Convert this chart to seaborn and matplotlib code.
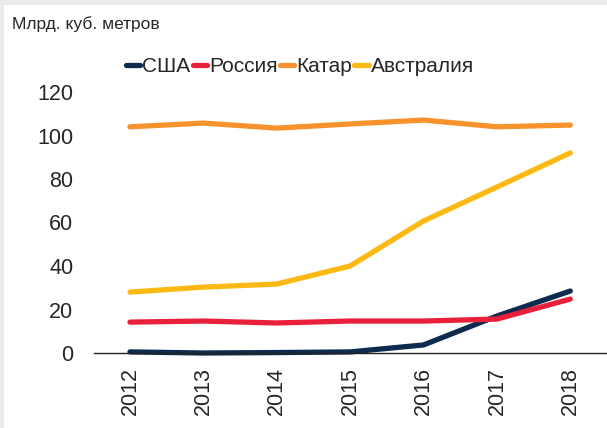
import numpy as np
import pandas as pd
import seaborn as sns
import matplotlib.pyplot as plt
from matplotlib.patches import Rectangle

years = [2012, 2013, 2014, 2015, 2016, 2017, 2018]
usa = [0.5, 0.0, 0.2, 0.5, 3.7, 17.0, 28.5]
russia = [14.2, 14.7, 13.8, 14.7, 14.7, 15.6, 24.8]
qatar = [104.0, 105.7, 103.4, 105.3, 107.1, 104.0, 104.8]
australia = [28.0, 30.3, 31.7, 40.0, 60.7, 76.3, 92.0]

names = ['США', 'Россия', 'Катар', 'Австралия']
colors = ['#0d2b4e', '#e8203a', '#f7922c', '#fdb913']

df = pd.DataFrame({'Год': years * 4,
                   'Страна': np.repeat(names, len(years)),
                   'Объём': usa + russia + qatar + australia})

sns.set_style('white')
plt.rcParams['font.family'] = ['Liberation Sans', 'DejaVu Sans']

fig = plt.figure(figsize=(6.07, 4.28), dpi=100, facecolor='#ebebeb')
# white panel inside the gray frame
fig.patches.append(Rectangle((4 / 607, 0), 1, 1 - 5 / 428, transform=fig.transFigure,
                             facecolor='white', edgecolor='none', zorder=-10))

ax = fig.add_axes([94 / 607, 1 - 353 / 428, 1 - 94 / 607, (353 - 92) / 428])
ax.set_facecolor('none')

sns.lineplot(data=df, x='Год', y='Объём', hue='Страна', hue_order=names,
             palette=colors, linewidth=3.8, ax=ax, legend=False, clip_on=False)
for line in ax.lines:
    line.set_solid_capstyle('round')

ax.set_xlim(2011.51, 2018.5)
ax.set_ylim(0, 120)
ax.set_yticks(range(0, 121, 20))
ax.set_xticks(years)
ax.set_xticklabels([str(y) for y in years], rotation=90, fontsize=15.5)
ax.tick_params(axis='y', labelsize=15.5, length=0, pad=15)
ax.tick_params(axis='x', length=0, pad=10)
ax.set_xlabel('')
ax.set_ylabel('')
for side in ['left', 'right', 'top']:
    ax.spines[side].set_visible(False)
ax.spines['bottom'].set_color('#222222')
ax.spines['bottom'].set_linewidth(1.0)

handles = [plt.Line2D([], [], color=c, linewidth=3.8) for c in colors]
fig.legend(handles, names, loc='center', bbox_to_anchor=(300 / 607, 1 - 67 / 428),
           ncol=4, frameon=False, fontsize=15, handlelength=0.7, handletextpad=0.1,
           columnspacing=0.1, borderpad=0)

fig.text(12 / 607, 1 - 24 / 428, 'Млрд. куб. метров', fontsize=12.5, va='center', ha='left')

fig.savefig('out.png', dpi=100, facecolor=fig.get_facecolor())
